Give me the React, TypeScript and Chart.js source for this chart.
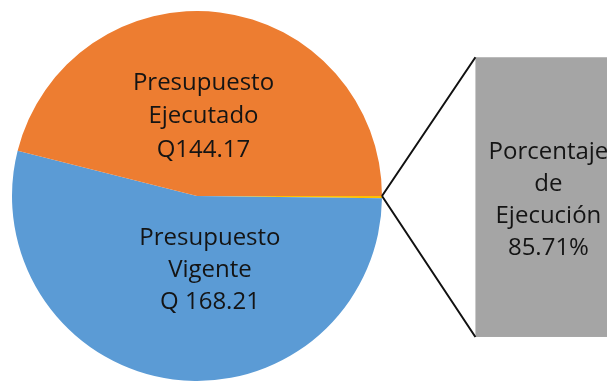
import React, { useEffect, useRef } from 'react';
import { Chart, registerables } from 'chart.js';

Chart.register(...registerables);

const categories = ['Otros', 'Presupuesto Vigente', 'Presupuesto Ejecutado'];
const values = [0.6, 168.21, 144.17];
const colors = ['#FFC000', '#5B9BD5', '#ED7D31'];
const vigenteLabel = ['Presupuesto', 'Vigente', 'Q 168.21'];
const ejecutadoLabel = ['Presupuesto', 'Ejecutado', 'Q144.17'];
const boxLabel = ['Porcentaje', 'de', 'Ejecución', '85.71%'];

const FONT = '24px "Open Sans", "DejaVu Sans", sans-serif';
const TEXT_COLOR = '#141414';

const overlayPlugin = {
  id: 'overlay',
  afterDatasetsDraw(chart: any) {
    const meta = chart.getDatasetMeta(0);
    const arc = meta.data[0];
    if (!arc) return;
    const cx = arc.x;
    const cy = arc.y;
    const r = arc.outerRadius;
    const ctx = chart.ctx;
    ctx.save();

    // gray box
    const left = cx + 1.505 * r;
    const top = cy - 0.75 * r;
    const bottom = cy + 0.762 * r;
    ctx.fillStyle = '#A5A5A5';
    ctx.fillRect(left, top, chart.width - left + 20, bottom - top);

    // connector lines
    ctx.strokeStyle = '#111111';
    ctx.lineWidth = 2;
    ctx.beginPath();
    ctx.moveTo(cx + r, cy);
    ctx.lineTo(left, top);
    ctx.moveTo(cx + r, cy);
    ctx.lineTo(left, bottom);
    ctx.stroke();

    ctx.font = FONT;
    ctx.fillStyle = TEXT_COLOR;
    ctx.textAlign = 'center';
    ctx.textBaseline = 'middle';

    const drawLines = (lines: string[], x: number, yMid: number, lh: number) => {
      const n = lines.length;
      lines.forEach((t, i) => {
        ctx.fillText(t, x, yMid + (i - (n - 1) / 2) * lh);
      });
    };

    drawLines(ejecutadoLabel, cx + 0.035 * r, cy - 0.43 * r, 33.5);
    drawLines(vigenteLabel, cx + 0.07 * r, cy + 0.4 * r, 32);
    drawLines(boxLabel, left + 73, (top + bottom) / 2 + 3, 32);

    ctx.restore();
  },
};

export default function App() {
  const ref = useRef<HTMLCanvasElement | null>(null);

  useEffect(() => {
    if (!ref.current) return;
    const chart = new Chart(ref.current, {
      type: 'pie',
      data: {
        labels: categories,
        datasets: [
          {
            data: values,
            backgroundColor: colors,
            borderWidth: 0,
          },
        ],
      },
      options: {
        responsive: true,
        maintainAspectRatio: false,
        animation: false,
        rotation: 90,
        layout: { padding: { left: 12, top: 11, right: 225, bottom: 0 } },
        plugins: {
          legend: { display: false },
          tooltip: { enabled: false },
        },
      },
      plugins: [overlayPlugin],
    });
    return () => chart.destroy();
  }, []);

  return (
    <div style={{ position: 'fixed', left: 0, top: 0, width: 607, height: 381, background: '#fff', overflow: 'hidden' }}>
      <canvas ref={ref} />
    </div>
  );
}
